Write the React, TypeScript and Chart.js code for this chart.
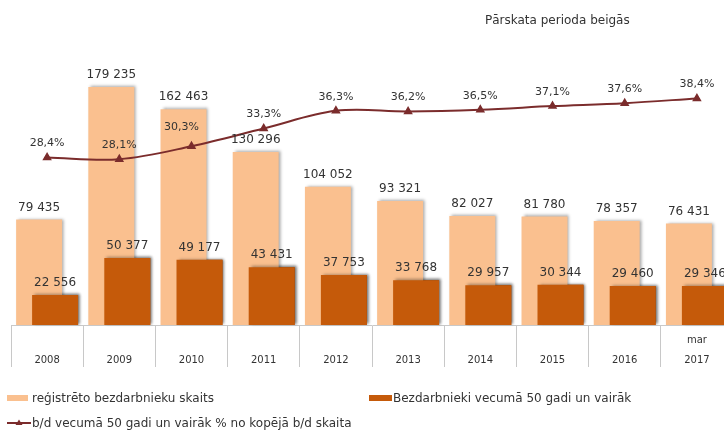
import React, { useEffect, useRef } from 'react';
import { Chart, registerables } from 'chart.js';

Chart.register(...registerables);

const years = ['2008', '2009', '2010', '2011', '2012', '2013', '2014', '2015', '2016', '2017'];
const periodNotes = ['', '', '', '', '', '', '', '', '', 'mar'];
const registered = [79435, 179235, 162463, 130296, 104052, 93321, 82027, 81780, 78357, 76431];
const over50 = [22556, 50377, 49177, 43431, 37753, 33768, 29957, 30344, 29460, 29346];
const sharePct = [28.4, 28.1, 30.3, 33.3, 36.3, 36.2, 36.5, 37.1, 37.6, 38.4];

const titleText = 'Pārskata perioda beigās';
const legendRegistered = 'reģistrēto bezdarbnieku skaits';
const legendOver50 = 'Bezdarbnieki vecumā 50 gadi un vairāk';
const legendShare = 'b/d vecumā 50 gadi un vairāk % no kopējā b/d skaita';

const LIGHT = '#FAC08F';
const DARK = '#C55A0A';
const LINE = '#7B2C2C';
const TEXT = '#333333';
const FONT = "'DejaVu Sans', Verdana, sans-serif";

const fmtInt = (n: number) => String(n).replace(/\B(?=(\d{3})+(?!\d))/g, ' ');
const fmtPct = (v: number) => v.toFixed(1).replace('.', ',') + '%';

const setShadow = (ctx: CanvasRenderingContext2D) => {
  ctx.shadowColor = 'rgba(0,0,0,0.35)';
  ctx.shadowBlur = 3;
  ctx.shadowOffsetX = 2;
  ctx.shadowOffsetY = -1;
};

const orderAndShadowPlugin = {
  id: 'orderAndShadow',
  beforeDatasetDraw(chart: any, args: any) {
    const ctx = chart.ctx;
    ctx.save();
    if (args.index < 2) setShadow(ctx);
  },
  afterDatasetDraw(chart: any, args: any) {
    const ctx = chart.ctx;
    ctx.restore();
    if (args.index === 0) {
      // draw the dark (50+) bars on top of the light bars
      ctx.save();
      setShadow(ctx);
      chart.getDatasetMeta(1).controller.draw();
      ctx.restore();
    }
  },
};

const valueLabelsPlugin = {
  id: 'valueLabels',
  afterDatasetsDraw(chart: any) {
    const ctx = chart.ctx;
    ctx.save();
    ctx.fillStyle = TEXT;
    ctx.textAlign = 'center';
    ctx.textBaseline = 'middle';
    ctx.font = `12px ${FONT}`;
    [0, 1].forEach((di) => {
      const meta = chart.getDatasetMeta(di);
      const data = chart.data.datasets[di].data as number[];
      meta.data.forEach((el: any, i: number) => {
        ctx.fillText(fmtInt(data[i]), el.x, el.y - 12);
      });
    });
    ctx.font = `11px ${FONT}`;
    const lm = chart.getDatasetMeta(2);
    const ld = chart.data.datasets[2].data as number[];
    lm.data.forEach((el: any, i: number) => {
      const dx = i === 2 ? -10 : 0;
      const dy = i === 2 ? 19 : 14;
      ctx.fillText(fmtPct(ld[i]), el.x + dx, el.y - dy);
    });
    ctx.restore();
  },
};

export default function App() {
  const canvasRef = useRef<HTMLCanvasElement | null>(null);

  useEffect(() => {
    if (!canvasRef.current) return;
    const labels = years.map((y, i) => [periodNotes[i], y]);
    const chart = new Chart(canvasRef.current, {
      type: 'bar',
      data: {
        labels,
        datasets: [
          {
            type: 'bar',
            label: legendRegistered,
            data: registered,
            backgroundColor: LIGHT,
            yAxisID: 'y',
            order: 1,
            categoryPercentage: 0.443,
            barPercentage: 2.875,
          } as any,
          {
            type: 'bar',
            label: legendOver50,
            data: over50,
            backgroundColor: DARK,
            yAxisID: 'y',
            order: 2,
            categoryPercentage: 0.443,
            barPercentage: 2.875,
          } as any,
          {
            type: 'line',
            label: legendShare,
            data: sharePct,
            borderColor: LINE,
            backgroundColor: LINE,
            borderWidth: 2,
            pointStyle: 'triangle',
            pointRadius: 3.5,
            pointBackgroundColor: LINE,
            pointBorderColor: LINE,
            tension: 0.35,
            yAxisID: 'y2',
            order: 0,
          } as any,
        ],
      },
      options: {
        responsive: false,
        animation: false,
        layout: { padding: { top: 59.5, left: 11, right: 7, bottom: 0 } },
        plugins: {
          legend: { display: false },
          title: { display: false },
          tooltip: { enabled: false },
        },
        scales: {
          x: {
            grid: {
              offset: true,
              drawOnChartArea: false,
              drawTicks: true,
              tickLength: 42,
              color: '#c8c8c8',
              lineWidth: 1,
            },
            border: { display: true, color: '#c8c8c8' },
            ticks: {
              padding: -37,
              autoSkip: false,
              maxRotation: 0,
              color: TEXT,
              font: { family: FONT, size: 10, lineHeight: 2 },
            },
            afterFit: (s: any) => {
              s.height = 105;
            },
          },
          y: { display: false, min: 0, max: 200000 },
          y2: { display: false, min: 0, max: 45, position: 'right' },
        },
      } as any,
      plugins: [orderAndShadowPlugin, valueLabelsPlugin],
    });
    return () => chart.destroy();
  }, []);

  const textStyle: React.CSSProperties = {
    position: 'absolute',
    fontFamily: FONT,
    fontSize: 12,
    color: TEXT,
    lineHeight: '14px',
    whiteSpace: 'nowrap',
  };

  return (
    <div
      style={{
        position: 'fixed',
        left: 0,
        top: 0,
        width: 724,
        height: 430,
        overflow: 'hidden',
        background: '#ffffff',
      }}
    >
      <canvas ref={canvasRef} width={740} height={430} style={{ display: 'block' }} />
      <div style={{ ...textStyle, left: 485, top: 13 }}>{titleText}</div>

      <div style={{ position: 'absolute', left: 7, top: 395, width: 21, height: 6, background: LIGHT }} />
      <div style={{ ...textStyle, left: 32, top: 391 }}>{legendRegistered}</div>

      <div style={{ position: 'absolute', left: 369, top: 395, width: 23, height: 6, background: DARK }} />
      <div style={{ ...textStyle, left: 393, top: 391 }}>{legendOver50}</div>

      <svg style={{ position: 'absolute', left: 6, top: 418 }} width={26} height={10}>
        <line x1={1} y1={5} x2={25} y2={5} stroke={LINE} strokeWidth={2} />
        <polygon points="13,1.5 16.5,7 9.5,7" fill={LINE} />
      </svg>
      <div style={{ ...textStyle, left: 32, top: 416 }}>{legendShare}</div>
    </div>
  );
}
